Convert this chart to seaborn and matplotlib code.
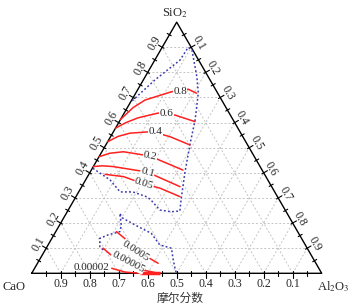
import numpy as np
import pandas as pd
import matplotlib
matplotlib.use("Agg")
import matplotlib.pyplot as plt
import seaborn as sns

# Composiciones en fracción molar: (SiO2, Al2O3); CaO = 1 - SiO2 - Al2O3
tick_vals = [0.1, 0.2, 0.3, 0.4, 0.5, 0.6, 0.7, 0.8, 0.9]
tick_labels = ["0.1", "0.2", "0.3", "0.4", "0.5", "0.6", "0.7", "0.8", "0.9"]

# Isolíneas (rojas)
iso_08_sio2 = [0.613, 0.660, 0.690, 0.723, 0.733, 0.717]
iso_08_al2o3 = [0.000, 0.020, 0.046, 0.121, 0.173, 0.210]
iso_06_sio2 = [0.578, 0.600, 0.619, 0.638, 0.630, 0.604]
iso_06_al2o3 = [0.000, 0.025, 0.057, 0.117, 0.179, 0.261]
iso_04_sio2 = [0.524, 0.545, 0.558, 0.564, 0.544, 0.511]
iso_04_al2o3 = [0.000, 0.025, 0.060, 0.132, 0.205, 0.290]
iso_02_sio2 = [0.464, 0.478, 0.484, 0.467, 0.444, 0.411]
iso_02_al2o3 = [0.000, 0.030, 0.074, 0.175, 0.232, 0.316]
iso_01_sio2 = [0.425, 0.428, 0.425, 0.403, 0.380, 0.345]
iso_01_al2o3 = [0.000, 0.030, 0.068, 0.198, 0.253, 0.339]
iso_005_sio2 = [0.394, 0.385, 0.356, 0.339, 0.305]
iso_005_al2o3 = [0.056, 0.124, 0.209, 0.273, 0.359]
iso_5e4_sio2 = [0.166, 0.139, 0.093, 0.063, 0.040]
iso_5e4_al2o3 = [0.209, 0.251, 0.313, 0.370, 0.416]
iso_5e5_sio2 = [0.100, 0.069, 0.037, 0.013, 0.003]
iso_5e5_al2o3 = [0.196, 0.243, 0.314, 0.377, 0.424]
iso_2e5_sio2 = [0.020, 0.005, 0.000, 0.000]
iso_2e5_al2o3 = [0.266, 0.319, 0.373, 0.442]

# Límites de las regiones (azul, punteado)
upper_sio2 = [0.418, 0.372, 0.324, 0.324, 0.304, 0.292, 0.252, 0.245, 0.248,
              0.292, 0.403, 0.511, 0.611, 0.717, 0.783, 0.889, 0.900, 0.849,
              0.770, 0.682]
upper_al2o3 = [0.002, 0.084, 0.143, 0.187, 0.246, 0.265, 0.316, 0.358, 0.387,
               0.369, 0.327, 0.290, 0.258, 0.216, 0.178, 0.108, 0.090, 0.087,
               0.040, 0.001]
lower_sio2 = [0.093, 0.106, 0.139, 0.153, 0.166, 0.192, 0.239, 0.219, 0.186,
              0.159, 0.113, 0.100, 0.060, 0.026, 0.000]
lower_al2o3 = [0.200, 0.182, 0.165, 0.187, 0.221, 0.213, 0.184, 0.205, 0.274,
               0.333, 0.385, 0.432, 0.457, 0.480, 0.499]

iso_names = ["0.8", "0.6", "0.4", "0.2", "0.1", "0.05", "0.0005", "0.00005", "0.00002"]
iso_sio2 = [iso_08_sio2, iso_06_sio2, iso_04_sio2, iso_02_sio2, iso_01_sio2,
            iso_005_sio2, iso_5e4_sio2, iso_5e5_sio2, iso_2e5_sio2]
iso_al2o3 = [iso_08_al2o3, iso_06_al2o3, iso_04_al2o3, iso_02_al2o3, iso_01_al2o3,
             iso_005_al2o3, iso_5e4_al2o3, iso_5e5_al2o3, iso_2e5_al2o3]

# posición de cada etiqueta (SiO2, Al2O3) y giro
label_pos = {"0.8": (0.724, 0.150, 0), "0.6": (0.636, 0.146, 0),
             "0.4": (0.565, 0.144, 0), "0.2": (0.467, 0.175, -12),
             "0.1": (0.403, 0.198, -16), "0.05": (0.356, 0.209, -18),
             "0.0005": (0.089, 0.315, -33), "0.00005": (0.045, 0.310, -28),
             "0.00002": (0.025, 0.192, 0)}

H = np.sqrt(3) / 2


def tern(s, a):
    s = np.asarray(s, float)
    a = np.asarray(a, float)
    return a + s / 2, s * H


sns.set_style("white")
plt.rcParams["font.family"] = ["Liberation Serif", "Noto Sans CJK SC"]
plt.rcParams["mathtext.fontset"] = "stix"

fig = plt.figure(figsize=(3.54, 3.08), dpi=100)
ax = fig.add_axes([0, 0, 1, 1])
ax.set_xlim(-31.7 / 290, (354 - 31.7) / 290)
ax.set_ylim(-(308 - 273.3) / 290, 273.3 / 290)
ax.axis("off")

# rejilla
grid_kw = dict(color="#c4c4c4", lw=0.7, ls=(0, (2, 2)), zorder=1)
for v in tick_vals:
    x, y = tern([v, v], [0, 1 - v])
    ax.plot(x, y, **grid_kw)
    x, y = tern([0, 1 - v], [v, v])
    ax.plot(x, y, **grid_kw)
    x, y = tern([0, 1 - v], [1 - v, 0])
    ax.plot(x, y, **grid_kw)

# triángulo
ax.plot([0, 1, 0.5, 0], [0, 0, H, 0], color="black", lw=1.0, zorder=3)

# marcas de escala
out_dirs = {"b": (0, -1), "l": (-H, 0.5), "r": (H, 0.5)}
minor = [0.05 + 0.1 * i for i in range(10)]
for v in tick_vals + minor:
    major = v in tick_vals
    pts = {"b": tern(0, 1 - v), "l": tern(v, 0), "r": tern(1 - v, v)}
    for k, (px, py) in pts.items():
        dx, dy = out_dirs[k]
        L = 0.015 if major else 0.009
        ax.plot([px - dx * 0.007, px + dx * L], [py - dy * 0.007, py + dy * L],
                color="black", lw=0.8, zorder=3)

for v, lab in zip(tick_vals, tick_labels):
    x, y = tern(0, 1 - v)
    ax.text(x, y - 0.037, lab, ha="center", va="center", fontsize=8.5)
    x, y = tern(v, 0)
    ax.text(x - 0.03 * H, y + 0.03 * 0.5, lab, ha="center", va="center",
            fontsize=8.5, rotation=60)
    x, y = tern(1 - v, v)
    ax.text(x + 0.03 * H, y + 0.03 * 0.5, lab, ha="center", va="center",
            fontsize=8.5, rotation=-60)

ax.text(0.494, 0.898, "SiO$_2$", ha="center", va="center", fontsize=9)
ax.text(-0.061, -0.046, "CaO", ha="center", va="center", fontsize=9)
ax.text(1.039, -0.046, "Al$_2$O$_3$", ha="center", va="center", fontsize=9)
ax.text(0.511, -0.088, "摩尔分数", ha="center", va="center", fontsize=8.5,
        family=["Noto Sans CJK SC", "DejaVu Sans"], color="#333333")

# regiones
rows = []
for name, s, a in [("upper", upper_sio2, upper_al2o3), ("lower", lower_sio2, lower_al2o3)]:
    x, y = tern(s, a)
    rows += [{"curve": name, "x": xi, "y": yi} for xi, yi in zip(x, y)]
df_blue = pd.DataFrame(rows)
sns.lineplot(data=df_blue, x="x", y="y", units="curve", estimator=None, sort=False,
             color="#3a3ab0", lw=1.1, linestyle=(0, (1.2, 1.5)), ax=ax, zorder=4)

rows = []
for name, s, a in zip(iso_names, iso_sio2, iso_al2o3):
    x, y = tern(s, a)
    rows += [{"curve": name, "x": xi, "y": yi} for xi, yi in zip(x, y)]
df_red = pd.DataFrame(rows)
sns.lineplot(data=df_red, x="x", y="y", units="curve", estimator=None, sort=False,
             color="#ff2020", lw=1.1, ax=ax, zorder=5)

# tramo grueso sobre la base
x, y = tern(iso_2e5_sio2[-2:], iso_2e5_al2o3[-2:])
ax.plot(x, y, color="#ff2020", lw=2.5, zorder=5, solid_capstyle="butt")

for name in iso_names:
    s, a, rot = label_pos[name]
    x, y = tern(s, a)
    bb = None if name == "0.00002" else dict(facecolor="white", edgecolor="none", pad=0.2)
    ax.text(x, y, name, ha="center", va="center", fontsize=8, rotation=rot,
            bbox=bb, zorder=6)

fig.savefig("out.png", dpi=100)
